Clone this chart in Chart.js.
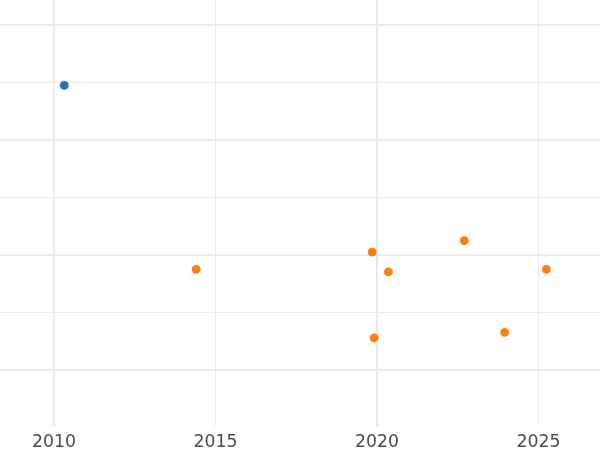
<!DOCTYPE html>
<html>
<head>
<meta charset="utf-8">
<script src="https://cdn.jsdelivr.net/npm/chart.js@4"></script>
<style>
  html, body { margin: 0; padding: 0; background: #ffffff; }
  #wrap { width: 600px; height: 450px; position: relative; }
</style>
</head>
<body>
<div id="wrap"><canvas id="c"></canvas></div>
<script>
// Data
const blueX = [2010.32];
const blueY = [2.473];
const orangeX = [2014.40, 2019.85, 2020.35, 2022.70, 2025.24, 2019.91, 2023.95];
const orangeY = [0.873, 1.023, 0.850, 1.122, 0.873, 0.276, 0.325];
const xTickValues = [2010, 2015, 2020, 2025];
const xMajorTicks = [2010, 2020];
const yGridValues = [0, 0.5, 1, 1.5, 2, 2.5, 3];
const yMajorTicks = [0, 1, 2, 3];

const toPoints = (xs, ys) => xs.map((x, i) => ({ x: x, y: ys[i] }));

new Chart(document.getElementById('c'), {
  type: 'scatter',
  data: {
    datasets: [
      {
        label: 'A',
        data: toPoints(blueX, blueY),
        backgroundColor: '#1f77b4',
        borderColor: '#1f77b4',
        pointRadius: 4.4,
        borderWidth: 0
      },
      {
        label: 'B',
        data: toPoints(orangeX, orangeY),
        backgroundColor: '#ff7f0e',
        borderColor: '#ff7f0e',
        pointRadius: 4.4,
        borderWidth: 0
      }
    ]
  },
  options: {
    responsive: true,
    maintainAspectRatio: false,
    animation: false,
    layout: { padding: 0, autoPadding: false },
    plugins: { legend: { display: false }, tooltip: { enabled: false } },
    scales: {
      x: {
        type: 'linear',
        min: 2008.33,
        max: 2026.9,
        afterBuildTicks: (scale) => { scale.ticks = xTickValues.map(v => ({ value: v })); },
        afterFit: (scale) => { scale.height = 24; },
        border: { display: false },
        grid: {
          color: '#ebebeb',
          lineWidth: (ctx) => (ctx.tick && xMajorTicks.includes(ctx.tick.value)) ? 2 : 1,
          drawTicks: false
        },
        ticks: {
          color: '#4d4d4d',
          font: { family: 'DejaVu Sans', size: 17.3 },
          padding: 5.8,
          maxRotation: 0,
          autoSkip: false,
          callback: (v) => String(v)
        }
      },
      y: {
        type: 'linear',
        min: -0.49,
        max: 3.215,
        display: true,
        afterBuildTicks: (scale) => { scale.ticks = yGridValues.map(v => ({ value: v })); },
        border: { display: false },
        grid: {
          color: '#ebebeb',
          lineWidth: (ctx) => (ctx.tick && yMajorTicks.includes(ctx.tick.value)) ? 2 : 1,
          drawTicks: false
        },
        ticks: { display: false }
      }
    }
  }
});
</script>
</body>
</html>
